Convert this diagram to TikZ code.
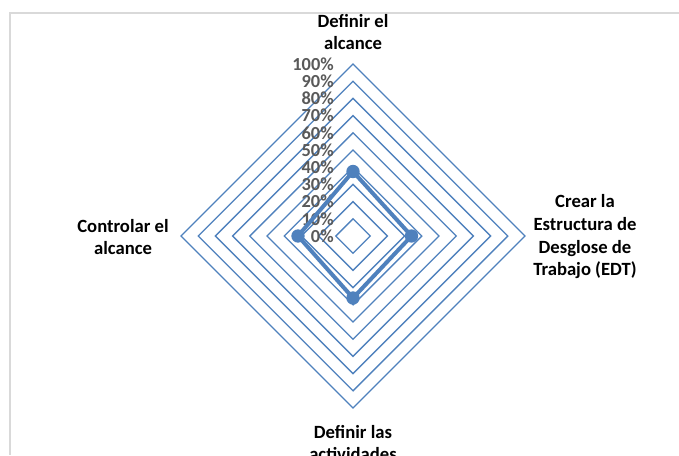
\documentclass[tikz,border=0pt]{standalone}
\usepackage{fontspec}
\setmainfont{Carlito}
\usetikzlibrary{calc}
\definecolor{xblue}{HTML}{4F81BD}
\definecolor{xgray}{HTML}{595959}
\definecolor{xframe}{HTML}{D9D9D9}
\begin{document}
\begin{tikzpicture}[x=0.75pt,y=-0.75pt,
  ring/.style={draw=xblue,line width=1pt},
  series/.style={draw=xblue,line width=3pt,line join=round},
  dot/.style={circle,fill=xblue,inner sep=0pt,minimum size=10pt},
  axlab/.style={align=center,font=\bfseries\fontsize{14}{17}\selectfont,text=black},
  pct/.style={anchor=east,font=\bfseries\fontsize{13.8}{13}\selectfont,text=xgray,inner sep=0pt}]
\useasboundingbox (0,0) rectangle (679,455);
\clip (0,0) rectangle (679,455);
% frame
\draw[xframe,line width=1.2pt] (679,13) -- (10,13) -- (10,455);
% center
\coordinate (c) at (353,236);
% rings
\foreach \k in {1,...,10}{
  \pgfmathsetmacro{\r}{17.2*\k}
  \draw[ring] ($(c)+(0,-\r)$) -- ($(c)+(\r,0)$) -- ($(c)+(0,\r)$) -- ($(c)+(-\r,0)$) -- cycle;
}
% percent labels
\foreach \k in {0,...,10}{
  \pgfmathtruncatemacro{\p}{10*\k}
  \node[pct] (p\k) at ($(c)+(-19,-17.2*\k)$) {\p\%};
}
% data
\coordinate (d1) at ($(c)+(0,-64.5)$);
\coordinate (d2) at ($(c)+(58.5,0)$);
\coordinate (d3) at ($(c)+(0,62)$);
\coordinate (d4) at ($(c)+(-55,0)$);
\draw[series] (d1) -- (d2) -- (d3) -- (d4) -- cycle;
\foreach \d in {d1,d2,d3,d4}{\node[dot] at (\d) {};}
% axis labels
\node[axlab] (l1) at (353,32) {Definir el\\alcance};
\node[axlab] (l2) at (585,237) {Crear la\\Estructura de\\Desglose de\\Trabajo (EDT)};
\node[axlab] (l3) at (123,237) {Controlar el\\alcance};
\node[axlab] (l4) at (353,443) {Definir las\\actividades};
\end{tikzpicture}
\end{document}
